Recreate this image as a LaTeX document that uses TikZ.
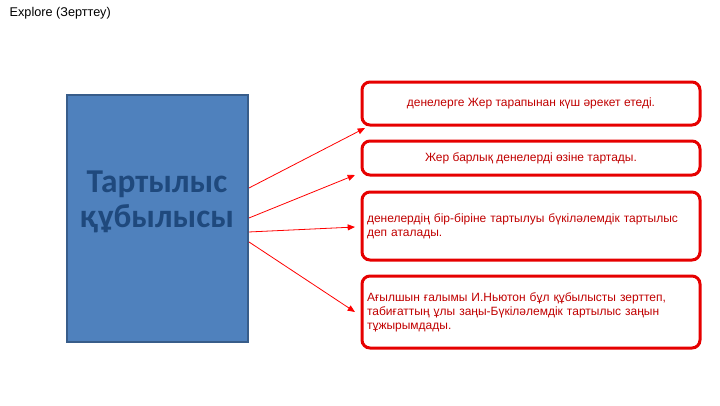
\documentclass[tikz,border=0pt]{standalone}
\usepackage{fontspec}
\setmainfont{Liberation Sans}
\newfontfamily\carlito{Carlito}
\usepackage{tikz}
\usetikzlibrary{arrows.meta}
\definecolor{boxred}{RGB}{230,0,0}
\definecolor{textred}{RGB}{192,0,0}
\definecolor{bluefill}{RGB}{79,129,189}
\definecolor{blueline}{RGB}{56,93,138}
\definecolor{bluetext}{RGB}{31,73,125}

\begin{document}
\begin{tikzpicture}[x=0.75pt,y=-0.75pt,
        redbox/.style={draw=boxred, line width=2.25pt, rounded corners=6pt, minimum width=253.5pt,
            inner sep=3.75pt, text=textred, font=\fontsize{9}{10.5}\selectfont},
        leftbox/.style={redbox, text width=246pt, align=left},
        link/.style={draw=red, line width=0.6pt, -{Triangle[length=5.5pt,width=4.5pt]}}]
        \useasboundingbox (0,0) rectangle (720,405);
        \node[anchor=west, font=\fontsize{9.5}{11}\selectfont] (title) at (5,13) {Explore (Зерттеу)};
        \node[draw=blueline, fill=bluefill, line width=1.5pt, minimum width=135.75pt, minimum height=185.25pt]
            (blue) at (157.5,218.5) {};
        \node[text=bluetext, align=center, font=\carlito\bfseries\fontsize{25}{26}\selectfont] (bluetitle)
            at (157,202) {Тартылыс\\құбылысы};
        \node[redbox, minimum height=32.25pt] (b1) at (531,103.5) {денелерге Жер тарапынан күш әрекет етеді.};
        \node[redbox, minimum height=25.5pt] (b2) at (531,158) {Жер барлық денелерді өзіне тартады.};
        \node[leftbox, minimum height=51pt] (b3) at (531,226)
            {денелердің бір-біріне тартылуы бүкіләлемдік  тартылыс\\деп аталады.};
        \node[leftbox, minimum height=54pt] (b4) at (531,312)
            {Ағылшын ғалымы И.Ньютон бұл құбылысты зерттеп,\\табиғаттың ұлы заңы-Бүкіләлемдік тартылыс заңын\\тұжырымдады.};
        \coordinate (e1) at (365,128);
        \coordinate (e2) at (355,175);
        \coordinate (e3) at (355,227);
        \coordinate (e4) at (355,312);
        \draw[link] ([yshift=22.9pt]blue.east) -- (e1);
        \draw[link] ([yshift=0.4pt]blue.east) -- (e2);
        \draw[link] ([yshift=-10.1pt]blue.east) -- (e3);
        \draw[link] ([yshift=-17.6pt]blue.east) -- (e4);
\end{tikzpicture}
\end{document}
